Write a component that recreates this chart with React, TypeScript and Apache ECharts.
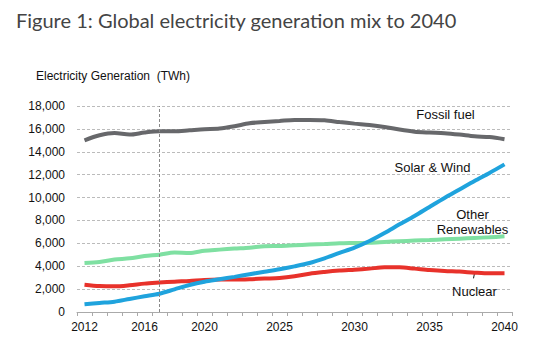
import React, { useEffect, useRef } from "react";
import * as echarts from "echarts";

const years = Array.from({ length: 29 }, (_, i) => String(2012 + i));
const shownYears = ["2012", "2016", "2020", "2025", "2030", "2035", "2040"];

const fossil = [15000, 15440, 15640, 15500, 15680, 15790, 15790, 15880, 15970, 16030, 16230, 16490, 16600, 16690, 16780, 16780, 16750, 16600, 16460, 16340, 16170, 15940, 15760, 15680, 15620, 15500, 15350, 15290, 15100];
const solarWind = [670, 790, 905, 1140, 1370, 1600, 1980, 2360, 2650, 2860, 3070, 3300, 3520, 3740, 3990, 4280, 4690, 5160, 5620, 6200, 6900, 7660, 8390, 9180, 9960, 10700, 11450, 12150, 12900];
const otherRenew = [4280, 4370, 4580, 4690, 4890, 5010, 5190, 5160, 5360, 5450, 5540, 5620, 5740, 5770, 5830, 5890, 5940, 6000, 6030, 6060, 6120, 6180, 6240, 6290, 6350, 6410, 6470, 6530, 6610];
const nuclear = [2390, 2270, 2240, 2330, 2480, 2570, 2650, 2710, 2800, 2830, 2830, 2860, 2920, 2970, 3120, 3350, 3500, 3620, 3700, 3790, 3900, 3900, 3790, 3670, 3580, 3530, 3440, 3380, 3380];

export default function App() {
  const ref = useRef<HTMLDivElement>(null);
  useEffect(() => {
    const chart = echarts.init(ref.current!, null, { renderer: "svg" });
    const mk = (name: string, data: number[], color: string, extra: any = {}) => ({
      name,
      type: "line",
      data,
      smooth: 0.3,
      symbol: "none",
      lineStyle: { color, width: 4 },
      itemStyle: { color },
      ...extra,
    });
    chart.setOption({
      animation: false,
      title: [
        {
          text: "Figure 1: Global electricity generation mix to 2040",
          left: 11,
          top: 5,
          textStyle: { fontFamily: "Lato", fontSize: 20, fontWeight: "normal", color: "#444" },
        },
        {
          text: "Electricity Generation  (TWh)",
          left: 31,
          top: 65,
          textStyle: { fontFamily: "Liberation Sans", fontSize: 12, fontWeight: "normal", color: "#111" },
        },
      ],
      grid: { left: 77, right: 28, top: 106, bottom: 46 },
      xAxis: {
        type: "category",
        data: years,
        boundaryGap: true,
        axisLine: { lineStyle: { color: "#aaa", width: 1 } },
        axisTick: { show: true, interval: 0, length: 4, lineStyle: { color: "#aaa" } },
        axisLabel: {
          interval: (i: number, v: string) => shownYears.includes(v),
          fontFamily: "Liberation Sans",
          fontSize: 12,
          color: "#111",
          margin: 9,
        },
      },
      yAxis: {
        type: "value",
        min: 0,
        max: 18000,
        interval: 2000,
        axisLine: { show: false },
        axisTick: { show: false },
        splitLine: { lineStyle: { color: "#bbb", type: [3, 2], width: 1 } },
        axisLabel: {
          formatter: (v: number) => v.toLocaleString("en-US"),
          fontFamily: "Liberation Sans",
          fontSize: 12,
          color: "#111",
          margin: 12,
        },
      },
      series: [
        mk("Fossil fuel", fossil, "#67686b", {
          markLine: {
            silent: true,
            symbol: "none",
            label: { show: false },
            lineStyle: { color: "#888", type: [3, 2], width: 1 },
            data: [{ xAxis: "2017" }],
          },
        }),
        mk("Other Renewables", otherRenew, "#7fe0a2"),
        mk("Nuclear", nuclear, "#e8322b"),
        mk("Solar & Wind", solarWind, "#1fa3dd"),
      ],
    });

    const labelStyle = { fontFamily: "Liberation Sans", fontSize: 13, fill: "#111", align: "center", verticalAlign: "middle" };
    const at = (x: string, y: number) => chart.convertToPixel({ gridIndex: 0 }, [x, y]) as number[];
    const fp = at("2036", 17280);
    const sp = at("2035", 12640);
    const op = at("2038", 8540);
    const rp = at("2038", 7230);
    const np = at("2038", 1810);
    const l1 = at("2038", 3380);
    const l2 = at("2038", 2940);
    chart.setOption({
      graphic: [
        { type: "text", x: fp[0] + 1, y: fp[1], style: { ...labelStyle, text: "Fossil fuel" } },
        { type: "text", x: sp[0] + 3, y: sp[1], style: { ...labelStyle, text: "Solar & Wind" } },
        { type: "text", x: op[0] - 2, y: op[1], style: { ...labelStyle, text: "Other" } },
        { type: "text", x: rp[0] - 2, y: rp[1], style: { ...labelStyle, text: "Renewables" } },
        { type: "text", x: np[0], y: np[1], style: { ...labelStyle, text: "Nuclear" } },
        { type: "line", shape: { x1: l1[0], y1: l1[1], x2: l2[0] - 1, y2: l2[1] }, style: { stroke: "#111", lineWidth: 1 } },
      ],
    });
    return () => chart.dispose();
  }, []);
  return <div ref={ref} style={{ width: 540, height: 358, position: "absolute", left: 0, top: 0 }} />;
}
